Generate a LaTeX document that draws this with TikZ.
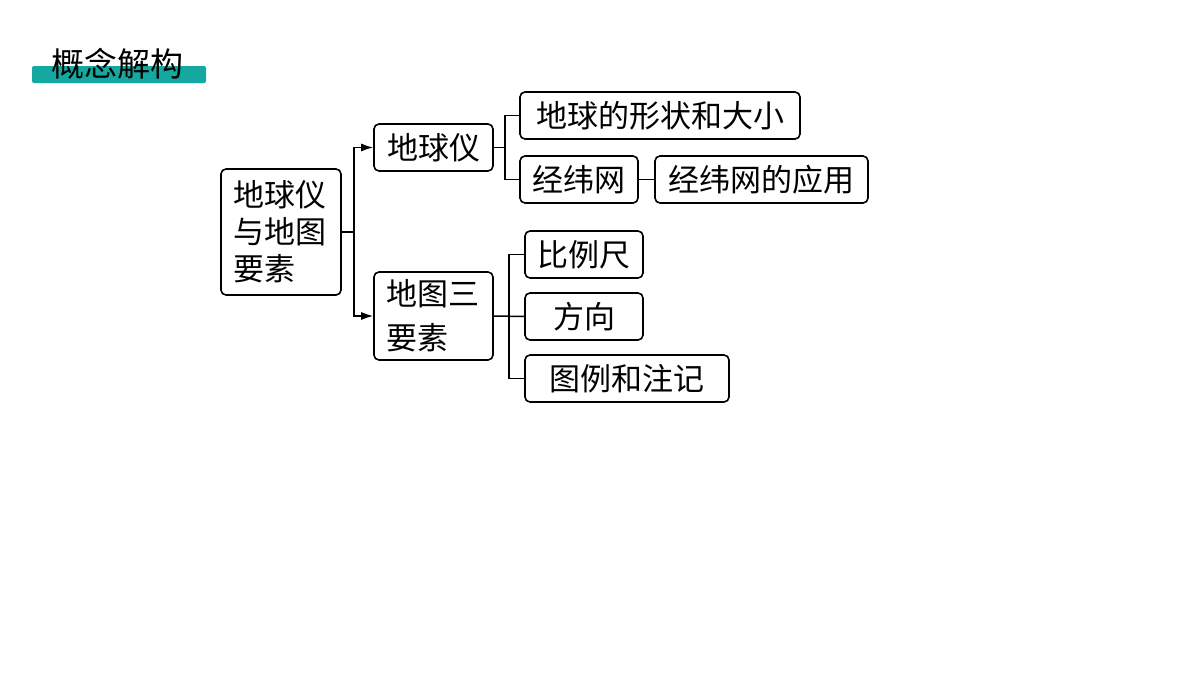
\documentclass[tikz,border=0pt]{standalone}
\usepackage{fontspec}
\newfontfamily\cjk{Noto Sans CJK SC}
\usetikzlibrary{arrows.meta}
\definecolor{teal1}{HTML}{14A8A0}
\begin{document}
\begin{tikzpicture}[x=1pt,y=-1pt,
 box/.style={draw,line width=1.6pt,rounded corners=5pt,inner sep=0pt},
 txt/.style={font=\cjk\fontsize{31}{36}\selectfont,anchor=center},
 ln/.style={line width=1.5pt},
 arr/.style={ln,-{Latex[length=12pt,width=8pt]}}]
\useasboundingbox (0,0) rectangle (1200,675);
\fill[teal1,rounded corners=2pt] (32,66) rectangle (206,83);
\node[font=\cjk\fontsize{33}{36}\selectfont,anchor=center] (title) at (117,64) {概念解构};
\node[box,minimum width=120pt,minimum height=126pt] (m) at (281,232) {};
\node[txt,align=left,anchor=west,font=\cjk\fontsize{31}{37}\selectfont] (mt) at (230,232) {地球仪\\与地图\\要素};
\node[box,minimum width=119pt,minimum height=47pt] (a) at (433.5,147.5) {};
\node[txt] at (a) {地球仪};
\node[box,minimum width=119pt,minimum height=88pt] (b) at (433.5,316) {};
\node[txt,align=left,anchor=west,font=\cjk\fontsize{31}{44}\selectfont] at (383,316) {地图三\\要素};
\node[box,minimum width=280pt,minimum height=47pt] (a1) at (660,115.5) {};
\node[txt] at (a1) {地球的形状和大小};
\node[box,minimum width=118pt,minimum height=47pt] (a2) at (579,179.5) {};
\node[txt] at (a2) {经纬网};
\node[box,minimum width=213pt,minimum height=47pt] (a3) at (761.5,179.5) {};
\node[txt] at (a3) {经纬网的应用};
\node[box,minimum width=118pt,minimum height=47pt] (b1) at (584,254.5) {};
\node[txt] at (b1) {比例尺};
\node[box,minimum width=118pt,minimum height=47pt] (b2) at (584,316.5) {};
\node[txt] at (b2) {方向};
\node[box,minimum width=204pt,minimum height=47pt] (b3) at (627,378.5) {};
\node[txt] at (b3) {图例和注记};
\draw[ln] (m.east) -- (354,232);
\draw[arr] (354,232) |- (a.west);
\draw[arr] (354,232) |- (b.west);
\draw[ln] (a.east) -- (505,147.5);
\draw[ln] (505,147.5) |- (a1.west);
\draw[ln] (505,147.5) |- (a2.west);
\draw[ln] (a2.east) -- (a3.west);
\draw[ln] (b.east) -- (b2.west);
\draw[ln] (509,316) |- (b1.west);
\draw[ln] (509,316) |- (b3.west);
\end{tikzpicture}
\end{document}
